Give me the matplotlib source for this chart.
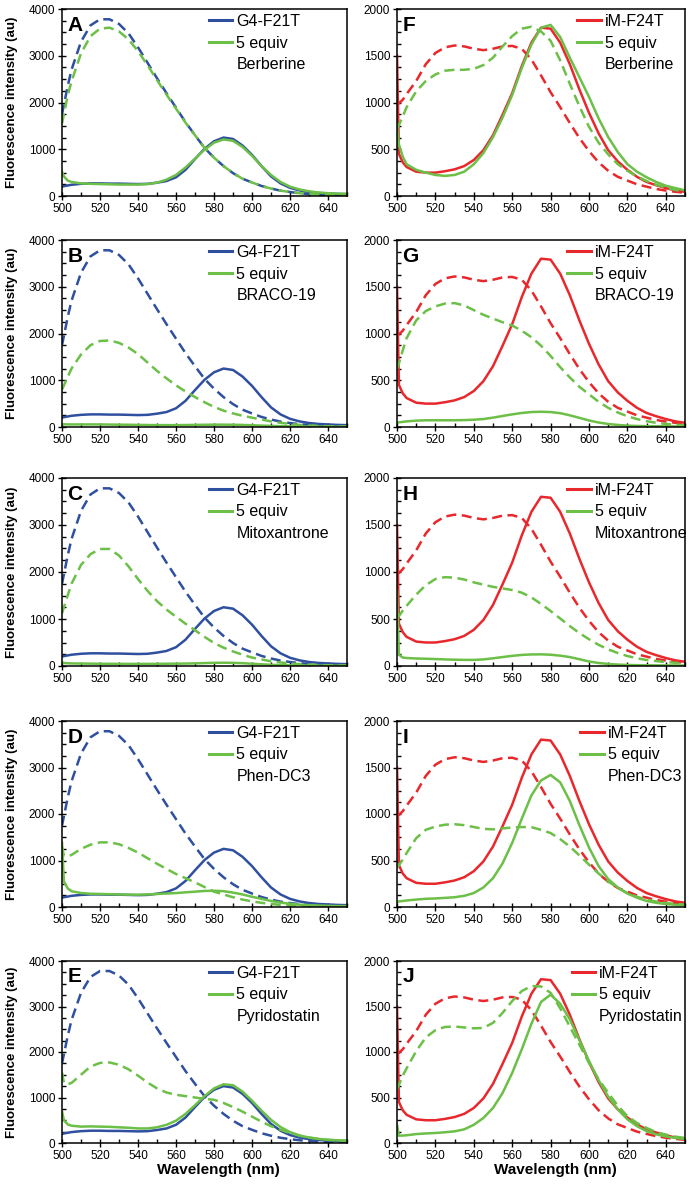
import matplotlib
matplotlib.use('Agg')
import matplotlib.pyplot as plt
from matplotlib.lines import Line2D
from matplotlib.ticker import MultipleLocator

plt.rcParams['font.family'] = ['Liberation Sans', 'DejaVu Sans']

# wavelength grid (nm)
wl = [500, 501, 503, 505, 510, 515, 520, 525, 530, 535, 540, 545, 550, 555,
      560, 565, 570, 575, 580, 585, 590, 595, 600, 605, 610, 615, 620, 625,
      630, 635, 640, 645, 650]

# G4-F21T control (left column)
g4_solid = [200, 210, 225, 240, 260, 270, 270, 265, 265, 260, 255, 260, 285, 320,
            400, 560, 790, 1010, 1170, 1250, 1220, 1080, 880, 640,
            420, 270, 175, 120, 85, 65, 55, 45, 40]
g4_dash = [1750, 1950, 2350, 2700, 3300, 3650, 3780, 3780, 3680, 3480, 3180, 2850, 2520, 2200,
           1890, 1580, 1300, 1030, 820, 640, 490, 370, 290, 215,
           160, 115, 85, 60, 42, 30, 22, 16, 12]

# iM-F24T control (right column)
im_solid = [1500, 450, 360, 310, 260, 250, 250, 265, 285, 320, 385, 490, 650, 870,
            1100, 1390, 1640, 1800, 1790, 1640, 1410, 1140, 890, 670,
            490, 370, 280, 205, 150, 115, 85, 60, 45]
im_dash = [1000, 990, 1030, 1090, 1230, 1410, 1530, 1590, 1610, 1600, 1575, 1560, 1575, 1600,
           1605, 1575, 1460, 1290, 1110, 950, 780, 620, 480, 360,
           270, 205, 165, 125, 100, 75, 58, 45, 35]

# + 5 equiv ligand, G4-F21T
berb_g4_solid = [520, 420, 330, 300, 270, 260, 255, 250, 245, 245, 245, 255, 285, 350,
                 450, 610, 800, 990, 1140, 1210, 1180, 1050, 860, 640,
                 450, 300, 200, 140, 100, 75, 60, 50, 45]
berb_g4_dash = [1550, 1750, 2150, 2450, 3050, 3420, 3580, 3600, 3520, 3350, 3100, 2800, 2480, 2170,
                1870, 1570, 1300, 1030, 820, 640, 490, 370, 290, 215,
                160, 115, 85, 60, 42, 30, 22, 16, 12]
braco_g4_solid = [60, 58, 55, 55, 55, 55, 55, 52, 50, 48, 45, 42, 40, 40,
                  40, 42, 45, 48, 50, 50, 48, 44, 38, 30,
                  24, 18, 14, 11, 9, 8, 7, 6, 6]
braco_g4_dash = [800, 890, 1070, 1250, 1550, 1750, 1840, 1850, 1800, 1700, 1560, 1380, 1200, 1040,
                 890, 760, 640, 530, 430, 350, 290, 240, 200, 160,
                 120, 90, 65, 45, 32, 22, 16, 12, 10]
mito_g4_solid = [80, 65, 58, 55, 52, 50, 48, 47, 46, 45, 45, 45, 46, 48,
                 50, 52, 56, 62, 67, 70, 67, 60, 48, 36,
                 26, 18, 13, 10, 8, 7, 6, 5, 5]
mito_g4_dash = [1120, 1250, 1500, 1750, 2150, 2380, 2490, 2490, 2350, 2120, 1850, 1600, 1380, 1200,
                1050, 900, 760, 620, 490, 390, 310, 240, 180, 140,
                100, 75, 55, 40, 30, 22, 16, 12, 10]
phen_g4_solid = [1380, 550, 400, 340, 300, 285, 280, 275, 270, 265, 265, 270, 280, 290,
                 300, 315, 330, 345, 350, 340, 310, 270, 220, 175,
                 130, 95, 70, 50, 40, 32, 25, 20, 20]
phen_g4_dash = [1300, 1100, 1090, 1120, 1250, 1340, 1390, 1390, 1350, 1270, 1170, 1050, 930, 820,
                710, 620, 530, 430, 330, 270, 210, 160, 120, 90,
                65, 45, 35, 25, 20, 15, 10, 10, 10]
pds_g4_solid = [700, 500, 410, 380, 360, 365, 360, 355, 345, 335, 320, 320, 345, 400,
                490, 640, 830, 1030, 1200, 1290, 1270, 1130, 930, 710,
                510, 350, 240, 165, 120, 90, 70, 60, 50]
pds_g4_dash = [1550, 1320, 1290, 1320, 1500, 1680, 1760, 1770, 1720, 1620, 1480, 1330, 1200, 1110,
               1060, 1030, 1000, 970, 950, 880, 790, 690, 580, 470,
               370, 290, 220, 160, 120, 90, 70, 55, 45]

# + 5 equiv ligand, iM-F24T
berb_im_solid = [750, 550, 420, 340, 280, 250, 225, 215, 225, 260, 340, 460, 630, 840,
                 1080, 1370, 1620, 1800, 1830, 1700, 1480, 1270, 1060, 830,
                 630, 470, 340, 260, 200, 150, 110, 85, 60]
berb_im_dash = [720, 760, 850, 950, 1120, 1230, 1300, 1340, 1350, 1350, 1360, 1400, 1480, 1600,
                1710, 1790, 1810, 1760, 1660, 1450, 1200, 960, 740, 570,
                445, 340, 270, 210, 160, 120, 90, 65, 47]
braco_im_solid = [45, 50, 55, 60, 68, 72, 72, 72, 72, 74, 78, 85, 100, 118,
                  135, 150, 160, 163, 160, 148, 125, 98, 70, 48,
                  32, 22, 15, 11, 9, 8, 7, 6, 6]
braco_im_dash = [620, 680, 820, 950, 1140, 1240, 1290, 1320, 1325, 1300, 1250, 1200, 1160, 1120,
                 1085, 1030, 960, 870, 760, 640, 530, 430, 350, 270,
                 205, 155, 115, 85, 62, 45, 33, 24, 18]
mito_im_solid = [800, 120, 90, 85, 80, 77, 74, 70, 67, 65, 65, 70, 82, 95,
                 108, 118, 123, 124, 120, 110, 95, 72, 48, 32,
                 22, 15, 11, 9, 8, 7, 6, 6, 5]
mito_im_dash = [510, 530, 590, 640, 760, 860, 925, 945, 940, 920, 890, 865, 842, 825,
                808, 780, 730, 660, 585, 505, 425, 350, 285, 225,
                177, 138, 106, 82, 64, 52, 42, 34, 28]
phen_im_solid = [55, 60, 65, 70, 80, 88, 92, 98, 105, 120, 150, 210, 310, 470,
                 690, 950, 1200, 1360, 1420, 1340, 1140, 880, 640, 440,
                 300, 210, 145, 100, 65, 45, 32, 24, 18]
phen_im_dash = [420, 450, 510, 580, 740, 830, 865, 885, 890, 880, 860, 840, 835, 845,
                855, 860, 858, 830, 795, 730, 650, 555, 455, 360,
                275, 205, 150, 110, 79, 58, 43, 32, 25]
pds_im_solid = [200, 80, 82, 85, 98, 105, 110, 118, 128, 150, 200, 275, 385, 550,
                770, 1030, 1310, 1550, 1630, 1530, 1360, 1130, 900, 690,
                510, 370, 260, 185, 130, 95, 72, 55, 44]
pds_im_dash = [590, 640, 740, 820, 1010, 1160, 1240, 1275, 1280, 1270, 1260, 1265, 1320, 1430,
               1560, 1670, 1725, 1720, 1650, 1480, 1280, 1080, 880, 700,
               550, 410, 295, 220, 165, 120, 92, 70, 55]

ligands = ['Berberine', 'BRACO-19', 'Mitoxantrone', 'Phen-DC3', 'Pyridostatin']
left_letters = ['A', 'B', 'C', 'D', 'E']
right_letters = ['F', 'G', 'H', 'I', 'J']
left_lig = [(berb_g4_solid, berb_g4_dash), (braco_g4_solid, braco_g4_dash),
            (mito_g4_solid, mito_g4_dash), (phen_g4_solid, phen_g4_dash),
            (pds_g4_solid, pds_g4_dash)]
right_lig = [(berb_im_solid, berb_im_dash), (braco_im_solid, braco_im_dash),
             (mito_im_solid, mito_im_dash), (phen_im_solid, phen_im_dash),
             (pds_im_solid, pds_im_dash)]

blue = '#2f4f9f'
green = '#6cbf47'
red = '#e8282c'

W, H = 689, 1187
fig = plt.figure(figsize=(W / 100, H / 100), dpi=100)

rows = [(9, 196), (240, 427), (478, 666), (721, 907), (961, 1143)]
right_leg_x = [0.61, 0.575, 0.575, 0.62, 0.59]


def make_ax(l, r, t, b):
    return fig.add_axes([l / W, 1 - b / H, (r - l) / W, (b - t) / H])


def style(ax, ymax, ymaj):
    ax.set_xlim(500, 650)
    ax.set_ylim(0, ymax)
    ax.xaxis.set_major_locator(MultipleLocator(20))
    ax.xaxis.set_minor_locator(MultipleLocator(10))
    ax.yaxis.set_major_locator(MultipleLocator(ymaj))
    ax.yaxis.set_minor_locator(MultipleLocator(ymaj / 4))
    ax.tick_params(which='major', direction='inout', length=6, width=1, labelsize=8.5, pad=2)
    ax.tick_params(which='minor', direction='in', length=3, width=1)
    for s in ax.spines.values():
        s.set_linewidth(1.1)


def legend(ax, ctrl_name, ctrl_col, lig, x0):
    handles = [Line2D([], [], color=ctrl_col, lw=2.2),
               Line2D([], [], color=green, lw=2.2),
               Line2D([], [], color='none')]
    ax.legend(handles, [ctrl_name, '5 equiv', lig], loc='upper left',
              bbox_to_anchor=(x0, 1.0), frameon=False, fontsize=11.5,
              handlelength=1.45, handletextpad=0.25, labelspacing=0.42,
              borderpad=0.3, borderaxespad=0)


for i in range(5):
    t, b = rows[i]
    # left: G4-F21T
    ax = make_ax(62, 347, t, b)
    ax.plot(wl, g4_solid, color=blue, lw=1.8)
    ax.plot(wl, g4_dash, color=blue, lw=1.8, ls=(0, (4, 2.2)))
    ax.plot(wl, left_lig[i][0], color=green, lw=1.8)
    ax.plot(wl, left_lig[i][1], color=green, lw=1.8, ls=(0, (4, 2.2)))
    style(ax, 4000, 1000)
    ax.text(0.018, 0.965, left_letters[i], transform=ax.transAxes, fontsize=15,
            fontweight='bold', va='top', ha='left')
    legend(ax, 'G4-F21T', blue, ligands[i], 0.5)
    ax.set_ylabel('Fluorescence intensity (au)', fontsize=9.5, fontweight='bold')
    ax.yaxis.set_label_coords(-0.155, 0.5)
    if i == 4:
        ax.set_xlabel('Wavelength (nm)', fontsize=11, fontweight='bold')
        ax.xaxis.set_label_coords(0.55, -0.11)

    # right: iM-F24T
    ax = make_ax(397, 685, t, b)
    ax.plot(wl, im_solid, color=red, lw=1.8)
    ax.plot(wl, im_dash, color=red, lw=1.8, ls=(0, (4, 2.2)))
    ax.plot(wl, right_lig[i][0], color=green, lw=1.8)
    ax.plot(wl, right_lig[i][1], color=green, lw=1.8, ls=(0, (4, 2.2)))
    style(ax, 2000, 500)
    ax.text(0.018, 0.965, right_letters[i], transform=ax.transAxes, fontsize=15,
            fontweight='bold', va='top', ha='left')
    legend(ax, 'iM-F24T', red, ligands[i], right_leg_x[i])
    if i == 4:
        ax.set_xlabel('Wavelength (nm)', fontsize=11, fontweight='bold')
        ax.xaxis.set_label_coords(0.55, -0.11)

fig.savefig('out.png', dpi=100)
